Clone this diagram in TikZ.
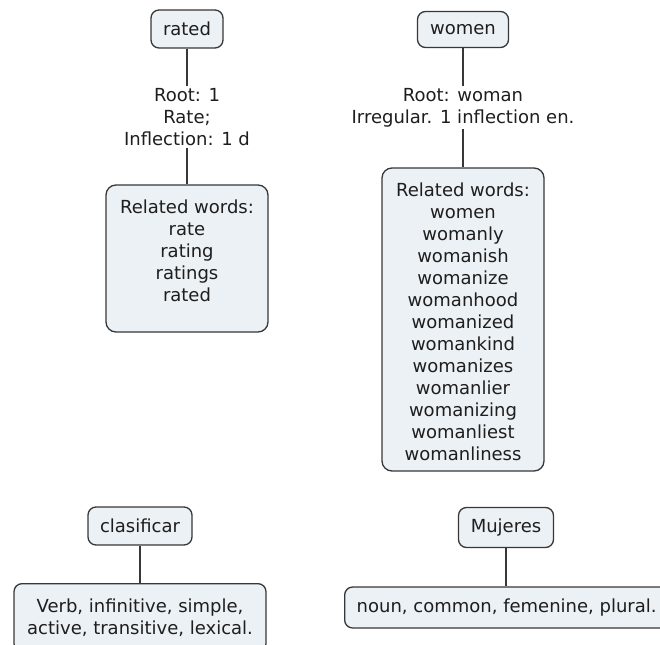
\documentclass[tikz,border=0pt]{standalone}
\usepackage{fontspec}
\setmainfont{DejaVu Sans}
\definecolor{boxfill}{RGB}{235,241,245}
\definecolor{boxline}{RGB}{55,55,55}
\definecolor{ink}{RGB}{30,30,30}
\newcommand\mapfont{\fontsize{18}{22}\selectfont}
\newcommand\wordlist[3]{\parbox[c][#2][t]{#1}{\centering\rule{0pt}{28pt}#3}}
\begin{document}
\begin{tikzpicture}[x=1pt,y=-1pt,
  concept/.style={draw=boxline, line width=1.3pt, fill=boxfill,
    rounded corners=8pt, inner sep=0pt, text=ink, font=\mapfont},
  linklabel/.style={inner sep=2pt, align=center, text=ink, font=\mapfont},
  link/.style={draw=boxline, line width=1.1pt}]
\useasboundingbox (0,0) rectangle (660,644);
\clip (0,0) rectangle (660,644);

% left column: "rated"
\node[concept, minimum width=72pt, minimum height=38pt] (rated) at (187,29) {rated};
\node[linklabel, anchor=north] (ratedlbl) at (187,86) {Root: 1\\Rate;\\Inflection: 1 d};
\node[concept, rounded corners=10pt, minimum width=162pt, minimum height=147pt]
  (ratedrel) at (187,258.5)
  {\wordlist{160pt}{147pt}{Related words:\\rate\\rating\\ratings\\rated}};

% right column: "women"
\node[concept, minimum width=91pt, minimum height=36pt] (women) at (463,29.5) {women};
\node[linklabel, anchor=north] (womenlbl) at (463,86) {Root: woman\\Irregular. 1 inflection en.};
\node[concept, rounded corners=10pt, minimum width=162pt, minimum height=303pt]
  (womenrel) at (463,319.5)
  {\wordlist{160pt}{303pt}{Related words:\\women\\womanly\\womanish\\womanize\\womanhood\\womanized\\womankind\\womanizes\\womanlier\\womanizing\\womanliest\\womanliness}};

% bottom left: "clasificar"
\node[concept, minimum width=104pt, minimum height=38pt] (clasif) at (140,526) {clasificar};
\node[concept, anchor=north, align=center, minimum width=252pt, minimum height=68pt]
  (verb) at (140,583) {Verb, infinitive, simple,\\active, transitive, lexical.};

% bottom right: "Mujeres" (its description box runs past the right edge)
\node[concept, minimum width=95pt, minimum height=40pt] (mujeres) at (506,527.5) {Mujeres};
\node[concept, anchor=west, minimum width=364pt, minimum height=41pt]
  (noun) at (344,607.5) {noun, common, femenine, plural.\kern40pt};

% connectors
\draw[link] (rated) -- (ratedlbl);
\draw[link] (ratedlbl) -- (ratedrel);
\draw[link] (women) -- (womenlbl);
\draw[link] (womenlbl) -- (womenrel);
\draw[link] (clasif) -- (clasif |- verb.north);
\draw[link] (mujeres) -- (mujeres |- noun.north);
\end{tikzpicture}
\end{document}
